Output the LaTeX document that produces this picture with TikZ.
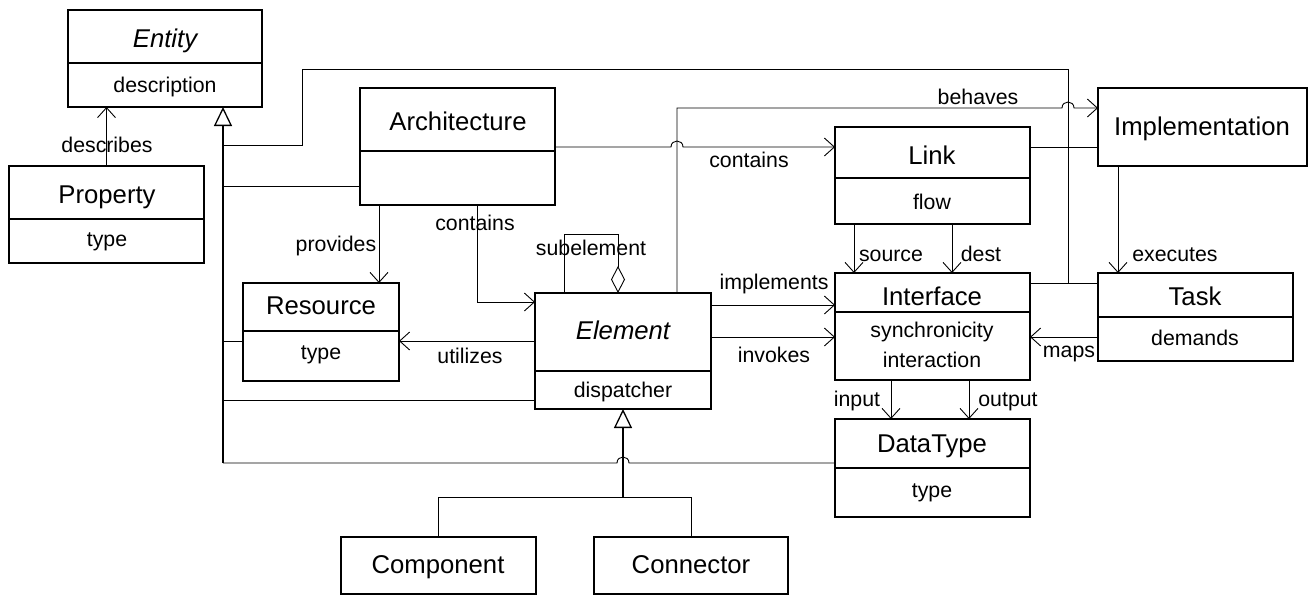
\documentclass[tikz,border=0pt]{standalone}
\usepackage{fontspec}
\setmainfont{Liberation Sans}
\usetikzlibrary{arrows.meta}
\begin{document}
\begin{tikzpicture}[x=1pt,y=-1pt,
  cls/.style={draw, line width=1.3pt, inner sep=0pt, outer sep=0pt, anchor=north west},
  ttl/.style={font=\fontsize{25.7}{30}\selectfont, anchor=base, inner sep=0pt},
  ttli/.style={font=\fontsize{25.7}{30}\selectfont\itshape, anchor=base, inner sep=0pt},
  att/.style={font=\fontsize{21.3}{25}\selectfont, anchor=base, inner sep=0pt},
  lbl/.style={font=\fontsize{21.3}{25}\selectfont, anchor=base, inner sep=0pt},
  sep/.style={line width=1.3pt},
  conn/.style={line width=0.9pt},
  arr/.style={conn, -{Straight Barb[length=10pt,width=18pt]}},
  gen/.style={line width=1.3pt, -{Triangle[open,length=19pt,width=18pt]}},
  agg/.style={conn, -{Diamond[open,length=27pt,width=14pt]}}]
\useasboundingbox (0,0) rectangle (1309,595);

% ---------- classes ----------
\node[cls, minimum width=194pt, minimum height=97pt] (entity) at (68,10) {};
\draw[sep] (68,63) -- (262,63);
\node[ttli] (entityT) at (165,47) {Entity};
\node[att] (entityA) at (165,92) {description};

\node[cls, minimum width=195pt, minimum height=97pt] (property) at (9,166) {};
\draw[sep] (9,219) -- (204,219);
\node[ttl] (propertyT) at (107,203) {Property};
\node[att] (propertyA) at (107,246) {type};

\node[cls, minimum width=195pt, minimum height=117pt] (arch) at (360,88) {};
\draw[sep] (360,151) -- (555,151);
\node[ttl] (archT) at (458,130.5) {Architecture};

\node[cls, minimum width=209pt, minimum height=78pt] (impl) at (1098,88) {};
\node[ttl] (implT) at (1202,135) {Implementation};

\node[cls, minimum width=195pt, minimum height=97pt] (link) at (835,127) {};
\draw[sep] (835,178) -- (1030,178);
\node[ttl] (linkT) at (932,164) {Link};
\node[att] (linkA) at (932,209) {flow};

\node[cls, minimum width=156pt, minimum height=98pt] (resource) at (243,283) {};
\draw[sep] (243,331) -- (399,331);
\node[ttl] (resourceT) at (321,314) {Resource};
\node[att] (resourceA) at (321,359) {type};

\node[cls, minimum width=176pt, minimum height=116pt] (element) at (535,293) {};
\draw[sep] (535,371) -- (711,371);
\node[ttli] (elementT) at (623,339) {Element};
\node[att] (elementA) at (623,397) {dispatcher};

\node[cls, minimum width=195pt, minimum height=107pt] (interface) at (835,273) {};
\draw[sep] (835,312) -- (1030,312);
\node[ttl] (interfaceT) at (932,305) {Interface};
\node[att] (interfaceA) at (932,337) {synchronicity};
\node[att] (interfaceB) at (932,367) {interaction};

\node[cls, minimum width=195pt, minimum height=88pt] (task) at (1098,273) {};
\draw[sep] (1098,317) -- (1293,317);
\node[ttl] (taskT) at (1195,305) {Task};
\node[att] (taskA) at (1195,345) {demands};

\node[cls, minimum width=195pt, minimum height=98pt] (datatype) at (835,419) {};
\draw[sep] (835,468) -- (1030,468);
\node[ttl] (datatypeT) at (932,452) {DataType};
\node[att] (datatypeA) at (932,497) {type};

\node[cls, minimum width=195pt, minimum height=57pt] (component) at (341,537) {};
\node[ttl] (componentT) at (438,573) {Component};

\node[cls, minimum width=194pt, minimum height=57pt] (connector) at (594,537) {};
\node[ttl] (connectorT) at (691,573) {Connector};

% ---------- Entity generalization tree ----------
\coordinate (t1) at (223,145);
\coordinate (t2) at (223,186);
\coordinate (t3) at (223,341);
\coordinate (t4) at (223,400);
\coordinate (t5) at (223,463);
\coordinate (j1) at (1068,283);
\draw[gen] (t5) -- (t5 |- entity.south);
\draw[conn] (t1) -- (302,145) -- (302,69) -- (1068,69) -- (j1);
\draw[conn] (t2) -- (t2 -| arch.west);
\draw[conn] (t3) -- (t3 -| resource.west);
\draw[conn] (t4) -- (t4 -| element.west);
\draw[conn] (t5) -- (617,463) .. controls (617,455) and (629,455) .. (629,463) -- (t5 -| datatype.west);

% ---------- associations ----------
\draw[arr] (property.north) -- (property.north |- entity.south);
\node[lbl] (describesL) at (107,152) {describes};

\draw[arr] (arch.east |- 0,147) -- (671,147) .. controls (671,139) and (683,139) .. (683,147) -- (link.west |- 0,147);
\node[lbl] (containsL1) at (749,167) {contains};

\draw[arr] (arch.south -| 379,0) -- (resource.north -| 379,0);
\node[lbl] (providesL) at (336,251) {provides};

\draw[arr] (arch.south -| 477,0) -- (477,302) -- (element.west |- 0,302);
\node[lbl] (containsL2) at (475,230) {contains};

\draw[agg] (element.north -| 564,0) -- (564,234) -- (618,234) -- (element.north -| 618,0);
\node[lbl] (subL) at (591,255) {subelement};

\draw[arr] (element.west |- 0,341) -- (resource.east |- 0,341);
\node[lbl] (utilL) at (470,363) {utilizes};

\draw[arr] (element.north -| 677,0) -- (677,108) -- (1062,108) .. controls (1062,100) and (1074,100) .. (1074,108) -- (impl.west |- 0,108);
\node[lbl] (behavesL) at (978,104) {behaves};

\draw[arr] (element.east |- 0,305) -- (interface.west |- 0,305);
\node[lbl] (implL) at (774,289) {implements};

\draw[arr] (element.east |- 0,337) -- (interface.west |- 0,337);
\node[lbl] (invokesL) at (774,362) {invokes};

\draw[conn] (link.east |- 0,147) -- (impl.west |- 0,147);

\draw[arr] (link.south -| 854,0) -- (interface.north -| 854,0);
\node[lbl] (sourceL) at (891,261) {source};
\draw[arr] (link.south -| 952,0) -- (interface.north -| 952,0);
\node[lbl] (destL) at (981,261) {dest};

\draw[arr] (impl.south -| 1118,0) -- (task.north -| 1118,0);
\node[lbl] (execL) at (1175,261) {executes};

\draw[conn] (interface.east |- j1) -- (task.west |- j1);

\draw[arr] (task.west |- 0,337) -- (interface.east |- 0,337);
\node[lbl] (mapsL) at (1069,357) {maps};

\draw[arr] (interface.south -| 891,0) -- (datatype.north -| 891,0);
\node[lbl] (inputL) at (857,406) {input};
\draw[arr] (interface.south -| 969,0) -- (datatype.north -| 969,0);
\node[lbl] (outputL) at (1008,406) {output};

% ---------- Element generalization ----------
\coordinate (e1) at (623,497);
\draw[gen] (e1) -- (element.south);
\draw[conn] (component.north) -- (component.north |- e1) -- (connector.north |- e1) -- (connector.north);
\end{tikzpicture}
\end{document}
